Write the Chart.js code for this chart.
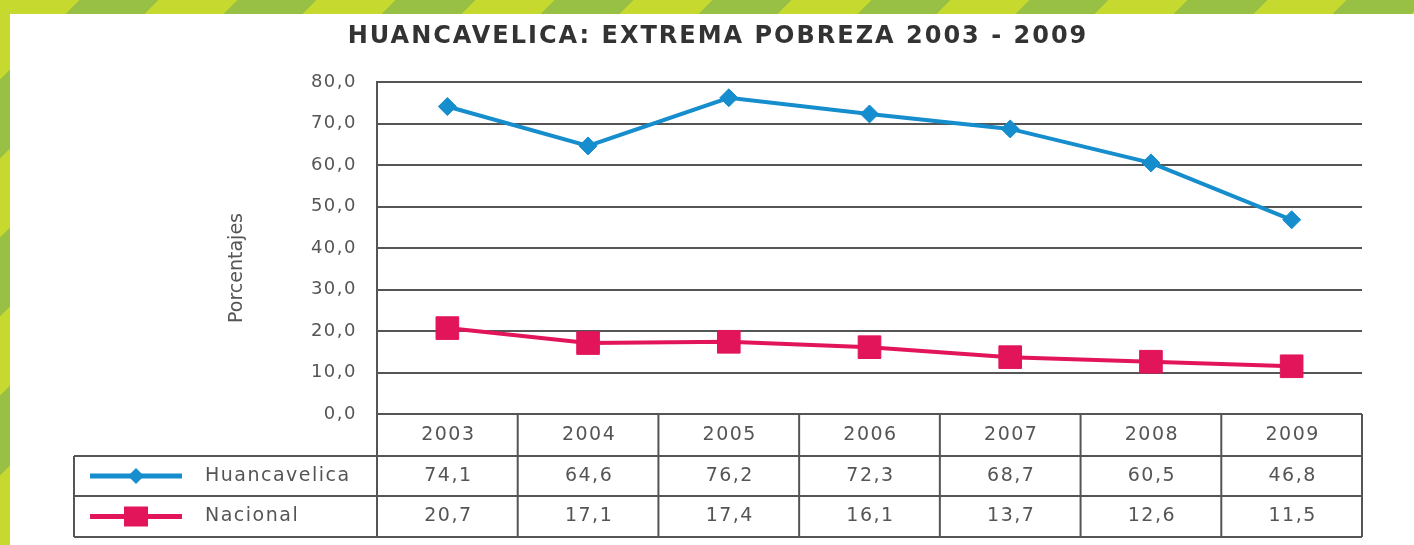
<!DOCTYPE html>
<html>
<head>
<meta charset="utf-8">
<script src="https://cdn.jsdelivr.net/npm/chart.js@4"></script>
<style>
  html, body { margin: 0; padding: 0; }
  body {
    width: 1414px; height: 545px; overflow: hidden; position: relative;
    background: repeating-linear-gradient(135deg, #c6d92f 0 56px, #98c044 56px 112px);
  }
  #panel { position: absolute; left: 10px; top: 14px; width: 1404px; height: 531px; background: #fff; }
  canvas { display: block; }
</style>
</head>
<body>
<div id="panel"><canvas id="chart" width="1404" height="531"></canvas></div>
<script>
const chartTitle = 'HUANCAVELICA: EXTREMA POBREZA 2003 - 2009';
const yTitle = 'Porcentajes';
const years = ['2003', '2004', '2005', '2006', '2007', '2008', '2009'];
const huancavelica = [74.1, 64.6, 76.2, 72.3, 68.7, 60.5, 46.8];
const nacional = [20.7, 17.1, 17.4, 16.1, 13.7, 12.6, 11.5];
const seriesNames = ['Huancavelica', 'Nacional'];

const blue = '#168dcc';
const red = '#e2145a';
const gridColor = '#555555';
const textColor = '#555555';
const fontFamily = '"DejaVu Sans", sans-serif';

function fmt(v) {
    return v.toFixed(1).replace('.', ',');
}

// title, axis title and data table under the plot
const tablePlugin = {
    id: 'dataTable',
    beforeDraw(chart) {
        chart.ctx.letterSpacing = '1.5px';
    },
    afterDraw(chart) {
        const ctx = chart.ctx;
        const area = chart.chartArea;
        const x = chart.scales.x;
        const step = x.getPixelForValue(1) - x.getPixelForValue(0);
        const rows = [area.bottom, area.bottom + 42, area.bottom + 82, area.bottom + 123];
        const legLeft = area.left - 303;

        ctx.save();

        // title
        ctx.letterSpacing = '2px';
        ctx.fillStyle = '#333';
        ctx.font = 'bold 24px ' + fontFamily;
        ctx.textAlign = 'center';
        ctx.textBaseline = 'middle';
        ctx.fillText(chartTitle, chart.width / 2 + 6, 23);

        // y axis title
        ctx.letterSpacing = '0px';
        ctx.save();
        ctx.translate(area.left - 140, area.top + 186);
        ctx.rotate(-Math.PI / 2);
        ctx.fillStyle = textColor;
        ctx.font = '19px ' + fontFamily;
        ctx.fillText(yTitle, 0, 0);
        ctx.restore();

        // table lines
        ctx.strokeStyle = gridColor;
        ctx.lineWidth = 2;
        ctx.beginPath();
        for (let r = 1; r < rows.length; r++) {
            ctx.moveTo(legLeft, rows[r]);
            ctx.lineTo(area.right, rows[r]);
        }
        for (let i = 0; i <= years.length; i++) {
            const px = x.getPixelForValue(0) - step / 2 + i * step;
            ctx.moveTo(px, i === 0 ? area.top : rows[0]);
            ctx.lineTo(px, rows[3]);
        }
        ctx.moveTo(legLeft, rows[1]);
        ctx.lineTo(legLeft, rows[3]);
        ctx.stroke();

        // cell text
        ctx.letterSpacing = '1.5px';
        ctx.fillStyle = textColor;
        ctx.font = '19px ' + fontFamily;
        const rowData = [years, huancavelica.map(fmt), nacional.map(fmt)];
        rowData.forEach(function(row, r) {
            const cy = (rows[r] + rows[r + 1]) / 2;
            row.forEach(function(txt, i) {
                ctx.fillText(txt, x.getPixelForValue(i) + 1, cy);
            });
        });

        // legend cells
        ctx.textAlign = 'left';
        const colors = [blue, red];
        seriesNames.forEach(function(name, s) {
            const cy = (rows[s + 1] + rows[s + 2]) / 2;
            ctx.strokeStyle = colors[s];
            ctx.fillStyle = colors[s];
            ctx.lineWidth = 5;
            ctx.beginPath();
            ctx.moveTo(legLeft + 16, cy);
            ctx.lineTo(legLeft + 108, cy);
            ctx.stroke();
            const mx = legLeft + 62;
            ctx.beginPath();
            if (s === 0) {
                ctx.moveTo(mx, cy - 8);
                ctx.lineTo(mx + 8, cy);
                ctx.lineTo(mx, cy + 8);
                ctx.lineTo(mx - 8, cy);
                ctx.closePath();
            } else {
                ctx.rect(mx - 12, cy - 10, 24, 20);
            }
            ctx.fill();
            ctx.fillStyle = textColor;
            ctx.fillText(name, legLeft + 131, cy);
        });
        ctx.restore();
    }
};

const ctx = document.getElementById('chart').getContext('2d');

new Chart(ctx, {
    type: 'line',
    data: {
        labels: years,
        datasets: [{
            label: seriesNames[0],
            data: huancavelica,
            borderColor: blue,
            backgroundColor: blue,
            borderWidth: 4,
            pointStyle: 'rectRot',
            pointRadius: 9,
            pointBorderWidth: 1,
        }, {
            label: seriesNames[1],
            data: nacional,
            borderColor: red,
            backgroundColor: red,
            borderWidth: 4,
            pointStyle: 'rect',
            pointRadius: 16,
            pointBorderWidth: 1,
        }]
    },
    options: {
        responsive: false,
        animation: false,
        layout: {
            padding: { left: 212, right: 52, top: 68, bottom: 131 }
        },
        scales: {
            x: {
                display: false,
                offset: true,
            },
            y: {
                min: 0,
                max: 80,
                afterFit: function(scale) { scale.width = 155; },
                ticks: {
                    stepSize: 10,
                    padding: 20,
                    color: textColor,
                    font: { family: fontFamily, size: 18 },
                    callback: function(v) { return fmt(v); }
                },
                grid: {
                    color: gridColor,
                    lineWidth: 2,
                    drawTicks: false,
                },
                border: { display: true, color: gridColor, width: 2 },
            }
        },
        plugins: {
            legend: { display: false },
            tooltip: { enabled: false },
        },
    },
    plugins: [tablePlugin]
});
</script>
</body>
</html>
